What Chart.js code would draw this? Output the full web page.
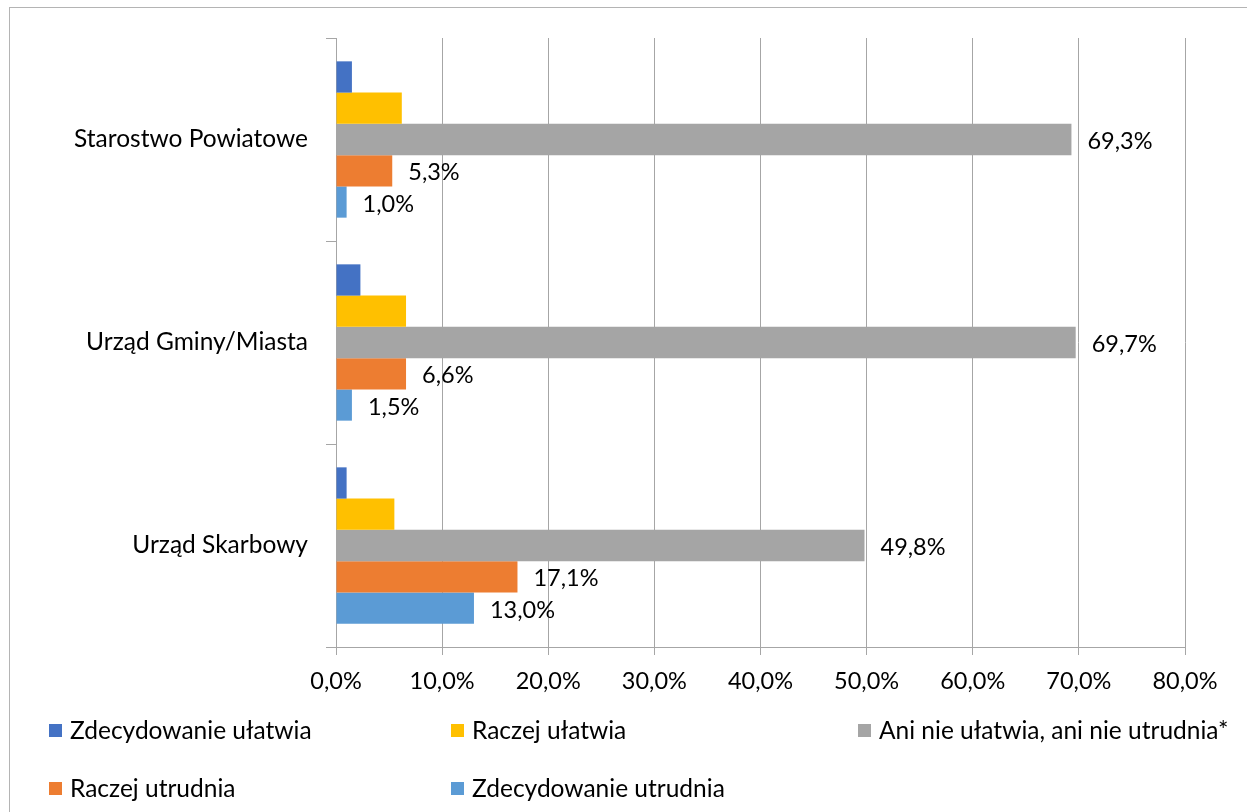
<!DOCTYPE html>
<html>
<head>
<meta charset="utf-8">
<script src="https://cdn.jsdelivr.net/npm/chart.js@4.4.0/dist/chart.umd.min.js"></script>
<style>
  html, body { margin: 0; padding: 0; background: #fff; overflow: hidden; }
  #wrap { position: absolute; left: 0; top: 0; width: 1247px; height: 812px; overflow: hidden; }
  #frame { position: absolute; left: 9px; top: 7px; width: 1400px; height: 1000px; border: 1px solid #b4b4b4; }
  canvas { position: absolute; left: 0; top: 0; }
</style>
</head>
<body>
<div id="wrap">
  <div id="frame"></div>
  <canvas id="chart" width="1247" height="812"></canvas>
</div>
<script>
// categories, top to bottom
const categories = ["Starostwo Powiatowe", "Urząd Gminy/Miasta", "Urząd Skarbowy"];

const seriesNames = [
  "Zdecydowanie ułatwia",
  "Raczej ułatwia",
  "Ani nie ułatwia, ani nie utrudnia*",
  "Raczej utrudnia",
  "Zdecydowanie utrudnia"
];

// values in %
const zdecydowanieUlatwia = [1.5, 2.3, 1.0];
const raczejUlatwia = [6.2, 6.6, 5.5];
const aniNie = [69.3, 69.7, 49.8];
const raczejUtrudnia = [5.3, 6.6, 17.1];
const zdecydowanieUtrudnia = [1.0, 1.5, 13.0];

const xTicks = [0, 10, 20, 30, 40, 50, 60, 70, 80];

const colors = ["#4472C4", "#FFC000", "#A5A5A5", "#ED7D31", "#5B9BD5"];
const showValues = [false, false, true, true, true];

const fmt = (v) => v.toFixed(1).replace(".", ",") + "%";

const FONT = "Lato, 'Open Sans', sans-serif";
Chart.defaults.font.family = FONT;
Chart.defaults.color = "#000";

// value labels to the right of bar ends
const valueLabels = {
  id: "valueLabels",
  afterDatasetsDraw(chart) {
    const ctx = chart.ctx;
    ctx.save();
    ctx.font = "23.5px " + FONT;
    ctx.fillStyle = "#000";
    ctx.textAlign = "left";
    ctx.textBaseline = "middle";
    chart.data.datasets.forEach((ds, i) => {
      if (!showValues[i]) return;
      chart.getDatasetMeta(i).data.forEach((bar, j) => {
        ctx.fillText(fmt(ds.data[j]), bar.x + 16, bar.y + 2);
      });
    });
    ctx.restore();
  }
};

// legend laid out in a fixed grid like the original
const gridLegend = {
  id: "gridLegend",
  afterDraw(chart) {
    const ctx = chart.ctx;
    const cols = [49, 451, 858];
    const rows = [731, 789];
    ctx.save();
    ctx.font = "24.5px " + FONT;
    ctx.textBaseline = "middle";
    ctx.textAlign = "left";
    chart.data.datasets.forEach((ds, i) => {
      const x = cols[i % 3];
      const y = rows[Math.floor(i / 3)];
      ctx.fillStyle = ds.backgroundColor;
      ctx.fillRect(x, y - 7, 13, 13);
      ctx.fillStyle = "#000";
      ctx.fillText(ds.label, x + 21, y);
    });
    ctx.restore();
  }
};

const seriesData = [zdecydowanieUlatwia, raczejUlatwia, aniNie, raczejUtrudnia, zdecydowanieUtrudnia];

new Chart(document.getElementById("chart"), {
  type: "bar",
  data: {
    labels: categories,
    datasets: seriesNames.map((name, i) => ({
      label: name,
      data: seriesData[i],
      backgroundColor: colors[i],
      borderWidth: 0,
      categoryPercentage: 0.77,
      barPercentage: 1.0
    }))
  },
  options: {
    indexAxis: "y",
    responsive: false,
    animation: false,
    layout: { padding: { top: 38, right: 62, left: 0, bottom: 0 } },
    plugins: {
      legend: { display: false },
      tooltip: { enabled: false }
    },
    scales: {
      x: {
        min: 0,
        max: 80,
        afterBuildTicks: (scale) => { scale.ticks = xTicks.map((v) => ({ value: v })); },
        afterFit: (scale) => { scale.height = 165; },
        ticks: {
          callback: (v) => fmt(v),
          font: { size: 23.5 },
          color: "#000",
          padding: 12,
          maxRotation: 0
        },
        grid: { color: "#a6a6a6", lineWidth: 1, tickLength: 8 },
        border: { color: "#a6a6a6" }
      },
      y: {
        afterFit: (scale) => { scale.width = 336; },
        ticks: { font: { size: 24.5 }, color: "#000", padding: 18 },
        grid: { drawOnChartArea: false, offset: true, tickLength: 10, color: "#a6a6a6" },
        border: { color: "#a6a6a6" }
      }
    }
  },
  plugins: [valueLabels, gridLegend]
});
</script>
</body>
</html>
